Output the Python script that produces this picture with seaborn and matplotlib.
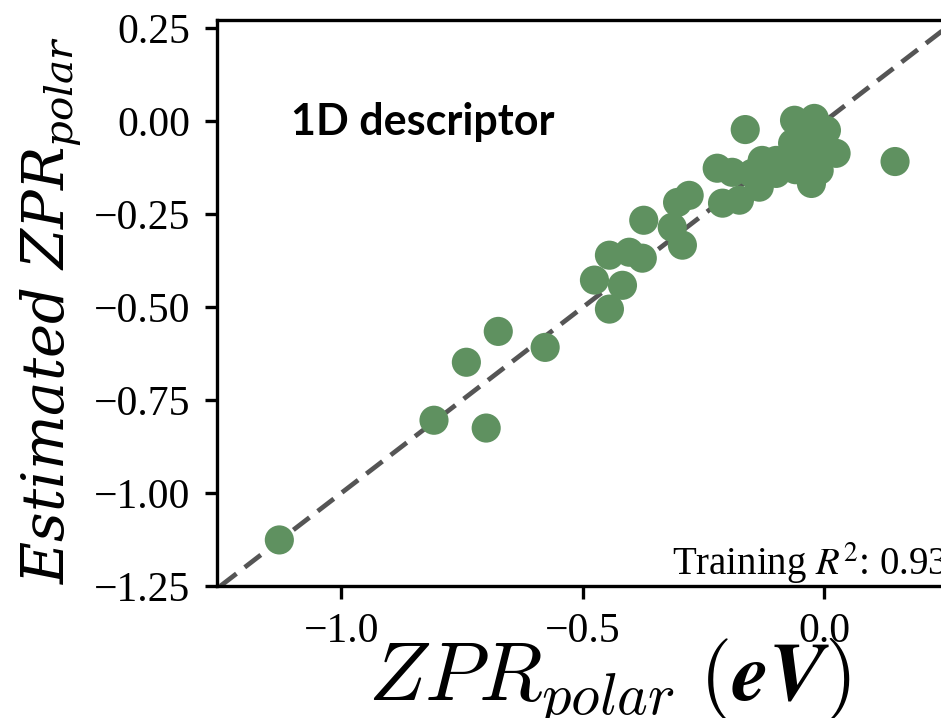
import matplotlib
matplotlib.use("Agg")
import matplotlib.pyplot as plt
import seaborn as sns
import pandas as pd

# Calculated vs. estimated polar zero-point renormalisation (eV)
zpr_true = [
    -1.128, -0.808, -0.700, -0.741, -0.675, -0.578,
    -0.445, -0.476, -0.418, -0.445, -0.404, -0.377,
    -0.374, -0.315, -0.294, -0.304, -0.280,
    -0.222, -0.191, -0.164, -0.211, -0.176, -0.135,
    -0.129, -0.100, -0.083, -0.066, -0.037, -0.062,
    -0.021, 0.004, 0.024, -0.027, -0.011, 0.146,
    -0.050, -0.100, -0.020, 0.000, -0.040, -0.150, -0.060,
]
zpr_est = [
    -1.126, -0.804, -0.825, -0.648, -0.565, -0.608,
    -0.505, -0.427, -0.441, -0.360, -0.352, -0.368,
    -0.266, -0.285, -0.333, -0.218, -0.199,
    -0.126, -0.137, -0.022, -0.220, -0.212, -0.177,
    -0.105, -0.105, -0.113, -0.059, -0.051, 0.003,
    0.008, -0.024, -0.086, -0.167, -0.132, -0.108,
    -0.090, -0.140, -0.100, -0.060, -0.020, -0.140, -0.130,
]
x_ticks = [-1.0, -0.5, 0.0]
y_ticks = [0.25, 0.00, -0.25, -0.50, -0.75, -1.00, -1.25]
panel_title = "1D descriptor"
score_text = r"Training $R^2$: 0.93"

df = pd.DataFrame({"true": zpr_true, "est": zpr_est})

sns.set_theme(style="white")
plt.rcParams["font.family"] = ["Liberation Serif", "DejaVu Serif"]
plt.rcParams["mathtext.fontset"] = "stix"
for key in ("text.color", "axes.labelcolor", "xtick.color", "ytick.color"):
    plt.rcParams[key] = "black"

fig = plt.figure(figsize=(9.41, 7.18), dpi=100)
# the frame runs past the right edge of the canvas
ax = fig.add_axes([0.2306, 0.1838, 0.85, 0.789])

sns.scatterplot(data=df, x="true", y="est", ax=ax, s=440,
                color="#5f9160", edgecolor="none", zorder=3)
ax.axline((0, 0), slope=1, color="#555555", lw=3.4,
          dashes=(4.3, 2.2), zorder=2)

ax.set_xlim(-1.257, 0.398)
ax.set_ylim(-1.25, 0.274)
ax.set_xticks(x_ticks)
ax.set_yticks(y_ticks)
ax.set_xticklabels([f"{v:.1f}".replace("-", "\u2212") for v in x_ticks])
ax.set_yticklabels([f"{v:.2f}".replace("-", "\u2212") for v in y_ticks])

for side in ("left", "bottom", "top"):
    ax.spines[side].set_color("black")
    ax.spines[side].set_linewidth(2.4)
ax.spines["right"].set_visible(False)
ax.tick_params(axis="both", direction="out", length=9, width=2.4,
               color="black", labelsize=30, pad=10,
               bottom=True, left=True)

ax.set_xlabel(r"$ZPR_{polar}\;(\mathbfit{eV})$", fontsize=60,
              math_fontfamily="cm", labelpad=-11)
ax.xaxis.label.set_x(0.49)
ax.set_ylabel(r"$Estimated\ ZPR_{polar}$", fontsize=41.5,
              math_fontfamily="dejavuserif", labelpad=9)
ax.yaxis.label.set_y(0.487)

ax.text(0.093, 0.796, panel_title, transform=ax.transAxes,
        fontsize=31, fontweight="bold", family="Lato",
        ha="left", va="baseline")
fig.text(672 / 941, 1 - 575 / 718, score_text,
         fontsize=28, ha="left", va="baseline")

fig.savefig("out.png", dpi=100)
